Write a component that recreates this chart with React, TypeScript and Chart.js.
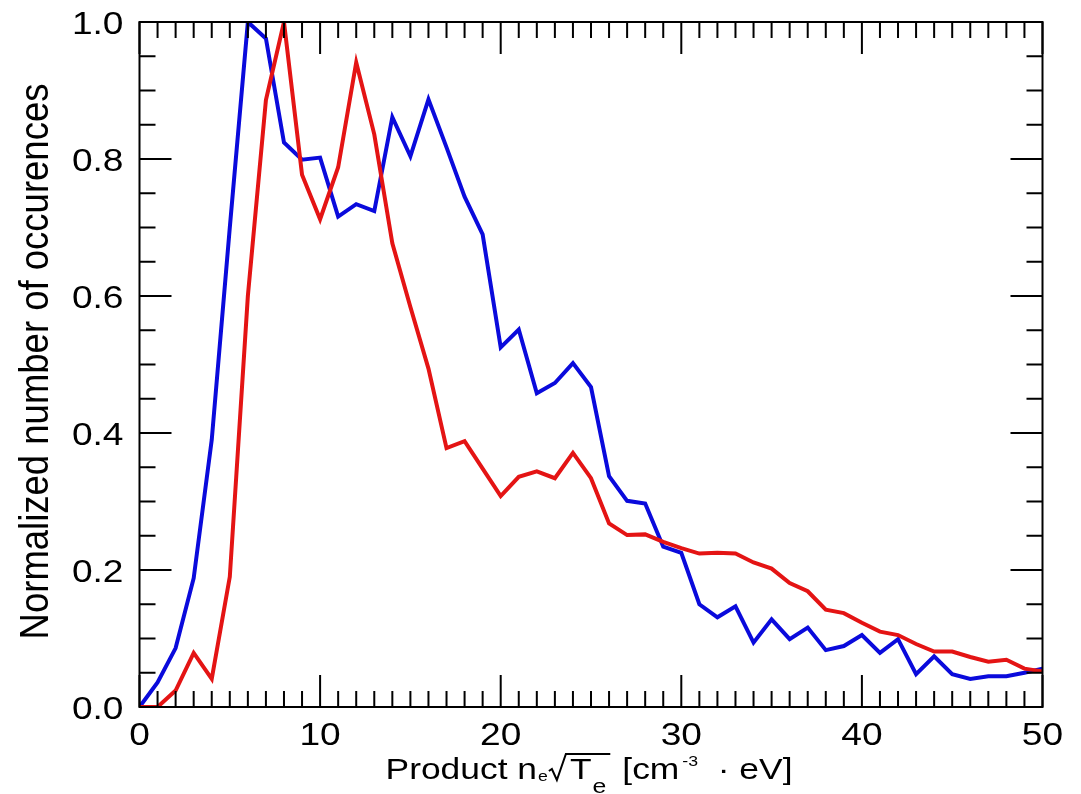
import React, { useEffect, useRef } from "react";
import { Chart, registerables } from "chart.js";

Chart.register(...registerables);

// Product n_e * sqrt(T_e) bins
const xValues = [
  0, 1, 2, 3, 4, 5, 6, 7, 8, 9, 10, 11, 12, 13, 14, 15, 16, 17, 18, 19, 20,
  21, 22, 23, 24, 25, 26, 27, 28, 29, 30, 31, 32, 33, 34, 35, 36, 37, 38, 39,
  40, 41, 42, 43, 44, 45, 46, 47, 48, 49, 50,
];

const blueValues = [
  0, 0.036, 0.086, 0.188, 0.39, 0.7, 1.0, 0.976, 0.824, 0.799, 0.802, 0.716,
  0.734, 0.724, 0.861, 0.804, 0.887, 0.817, 0.745, 0.69, 0.525, 0.551, 0.458,
  0.473, 0.502, 0.467, 0.337, 0.301, 0.297, 0.234, 0.225, 0.15, 0.131, 0.147,
  0.094, 0.128, 0.099, 0.116, 0.083, 0.089, 0.105, 0.079, 0.099, 0.048, 0.074,
  0.048, 0.041, 0.045, 0.045, 0.05, 0.056,
];

const redValues = [
  0, 0, 0.024, 0.079, 0.041, 0.19, 0.6, 0.886, 1.0, 0.777, 0.712, 0.788,
  0.941, 0.836, 0.677, 0.584, 0.494, 0.378, 0.388, 0.348, 0.308, 0.336, 0.344,
  0.334, 0.371, 0.334, 0.268, 0.251, 0.252, 0.241, 0.232, 0.224, 0.225, 0.224,
  0.211, 0.202, 0.181, 0.169, 0.142, 0.137, 0.123, 0.11, 0.105, 0.092, 0.081,
  0.081, 0.073, 0.066, 0.069, 0.056, 0.052,
];

const xMajorTicks = [0, 10, 20, 30, 40, 50];
const xTickLabels = ["0", "10", "20", "30", "40", "50"];
const yMajorTicks = [0, 0.2, 0.4, 0.6, 0.8, 1.0];
const yTickLabels = ["0.0", "0.2", "0.4", "0.6", "0.8", "1.0"];
const xMinorStep = 1;
const yMinorStep = 0.05;

const yTitle = "Normalized number of occurences";

const FONT = "'Liberation Sans', Arial, Helvetica, sans-serif";
const SX_TICK = 1.16;
const SX_TITLE = 1.18;
const SX_YTITLE = 1.1;

function drawStretched(
  ctx: CanvasRenderingContext2D,
  text: string,
  x: number,
  y: number,
  size: number,
  sx: number,
  align: CanvasTextAlign = "left"
): number {
  ctx.save();
  ctx.font = `${size}px ${FONT}`;
  ctx.textAlign = align;
  ctx.textBaseline = "alphabetic";
  ctx.translate(x, y);
  ctx.scale(sx, 1);
  ctx.fillText(text, 0, 0);
  const w = ctx.measureText(text).width * sx;
  ctx.restore();
  return w;
}

function measure(ctx: CanvasRenderingContext2D, text: string, size: number, sx: number) {
  ctx.save();
  ctx.font = `${size}px ${FONT}`;
  const w = ctx.measureText(text).width * sx;
  ctx.restore();
  return w;
}

const framePlugin = {
  id: "idlFrame",
  afterDraw(chart: any) {
    const ctx: CanvasRenderingContext2D = chart.ctx;
    const { left, right, top, bottom } = chart.chartArea;
    const xs = chart.scales.x;
    const ys = chart.scales.y;
    ctx.save();
    ctx.strokeStyle = "#000";
    ctx.fillStyle = "#000";
    ctx.lineWidth = 2;
    ctx.strokeRect(left, top, right - left, bottom - top);

    // x ticks (bottom and top, inward)
    const xMin = xs.min;
    const xMax = xs.max;
    const nx = Math.round((xMax - xMin) / xMinorStep);
    ctx.beginPath();
    for (let i = 0; i <= nx; i++) {
      const v = xMin + i * xMinorStep;
      const isMajor = xMajorTicks.some((m) => Math.abs(m - v) < 1e-6);
      const len = isMajor ? 32 : 16;
      const px = xs.getPixelForValue(v);
      ctx.moveTo(px, bottom);
      ctx.lineTo(px, bottom - len);
      ctx.moveTo(px, top);
      ctx.lineTo(px, top + len);
    }
    // y ticks (left and right, inward)
    const yMin = ys.min;
    const yMax = ys.max;
    const ny = Math.round((yMax - yMin) / yMinorStep);
    for (let i = 0; i <= ny; i++) {
      const v = yMin + i * yMinorStep;
      const isMajor = yMajorTicks.some((m) => Math.abs(m - v) < 1e-6);
      const len = isMajor ? 32 : 16;
      const py = ys.getPixelForValue(v);
      ctx.moveTo(left, py);
      ctx.lineTo(left + len, py);
      ctx.moveTo(right, py);
      ctx.lineTo(right - len, py);
    }
    ctx.stroke();

    // tick labels
    xMajorTicks.forEach((v, i) => {
      drawStretched(ctx, xTickLabels[i], xs.getPixelForValue(v), bottom + 38, 32, SX_TICK, "center");
    });
    yMajorTicks.forEach((v, i) => {
      drawStretched(ctx, yTickLabels[i], left - 16, ys.getPixelForValue(v) + 11.5, 32, SX_TICK, "right");
    });

    // y title (rotated)
    ctx.save();
    ctx.font = `36.5px ${FONT}`;
    ctx.textAlign = "center";
    ctx.textBaseline = "alphabetic";
    ctx.translate(48, (top + bottom) / 2 - 3);
    ctx.scale(SX_YTITLE, 1);
    ctx.rotate(-Math.PI / 2);
    ctx.fillText(yTitle, 0, 0);
    ctx.restore();

    // x title: Product n_e sqrt(T_e) [cm^-3 · eV]
    const S = SX_TITLE;
    const base = bottom + 72;
    const fMain = 30;
    const fSubSmall = 15;
    const fSubBig = 21;
    const fSup = 15;
    const wA = measure(ctx, "Product n", fMain, S);
    const wE1 = measure(ctx, "e", fSubSmall, S);
    const radW = 17;
    const tGap = 4;
    const wT = measure(ctx, "T", fMain, S);
    const wE2 = measure(ctx, "e", fSubBig, S);
    const afterOver = 12;
    const wB = measure(ctx, "[cm", fMain, S);
    const wSup = measure(ctx, "-3", fSup, S);
    const wC = measure(ctx, "  · eV]", fMain, S);
    const total =
      wA + 1 + wE1 + 1 + radW + tGap + wT + 1 + wE2 + 4 + afterOver + wB + 3 + wSup + wC;
    let cx = (left + right) / 2 - total / 2 - 2;
    drawStretched(ctx, "Product n", cx, base, fMain, S);
    cx += wA + 1;
    drawStretched(ctx, "e", cx, base + 2, fSubSmall, S);
    cx += wE1 + 1;
    // radical sign
    const radStart = cx;
    ctx.beginPath();
    ctx.lineWidth = 2;
    ctx.moveTo(radStart, base - 8);
    ctx.lineTo(radStart + 3, base - 10);
    ctx.lineTo(radStart + 8, base + 1);
    ctx.lineTo(radStart + radW, base - 25);
    cx += radW + tGap;
    drawStretched(ctx, "T", cx, base, fMain, S);
    cx += wT + 1;
    drawStretched(ctx, "e", cx, base + 14, fSubBig, S);
    cx += wE2 + 4;
    ctx.lineTo(cx, base - 25);
    ctx.stroke();
    cx += afterOver;
    drawStretched(ctx, "[cm", cx, base, fMain, S);
    cx += wB + 3;
    drawStretched(ctx, "-3", cx, base - 13, fSup, S);
    cx += wSup;
    drawStretched(ctx, "  · eV]", cx, base, fMain, S);

    ctx.restore();
  },
};

export default function App() {
  const canvasRef = useRef<HTMLCanvasElement | null>(null);

  useEffect(() => {
    if (!canvasRef.current) return;
    const blueData = xValues.map((x, i) => ({ x, y: blueValues[i] }));
    const redData = xValues.map((x, i) => ({ x, y: redValues[i] }));
    const chart = new Chart(canvasRef.current, {
      type: "line",
      data: {
        datasets: [
          {
            label: "red",
            data: redData,
            borderColor: "rgb(228, 20, 20)",
            borderWidth: 4,
            pointRadius: 0,
            tension: 0,
            fill: false,
          },
          {
            label: "blue",
            data: blueData,
            borderColor: "rgb(10, 10, 220)",
            borderWidth: 4,
            pointRadius: 0,
            tension: 0,
            fill: false,
          },
        ],
      },
      options: {
        responsive: true,
        maintainAspectRatio: false,
        animation: false,
        events: [],
        layout: { padding: { left: 0, top: 22, right: 38.5, bottom: 0 } },
        plugins: {
          legend: { display: false },
          tooltip: { enabled: false },
          title: { display: false },
        },
        scales: {
          x: {
            type: "linear",
            min: 0,
            max: 50,
            grid: { display: false },
            border: { display: false },
            ticks: { display: false },
            afterFit: (s: any) => {
              s.height = 87;
            },
          },
          y: {
            type: "linear",
            min: 0,
            max: 1,
            grid: { display: false },
            border: { display: false },
            ticks: { display: false },
            afterFit: (s: any) => {
              s.width = 139.5;
            },
          },
        },
      },
      plugins: [framePlugin],
    });
    return () => chart.destroy();
  }, []);

  return (
    <div
      style={{
        position: "fixed",
        left: 0,
        top: 0,
        width: 1081,
        height: 794,
        background: "#fff",
      }}
    >
      <canvas ref={canvasRef} />
    </div>
  );
}
